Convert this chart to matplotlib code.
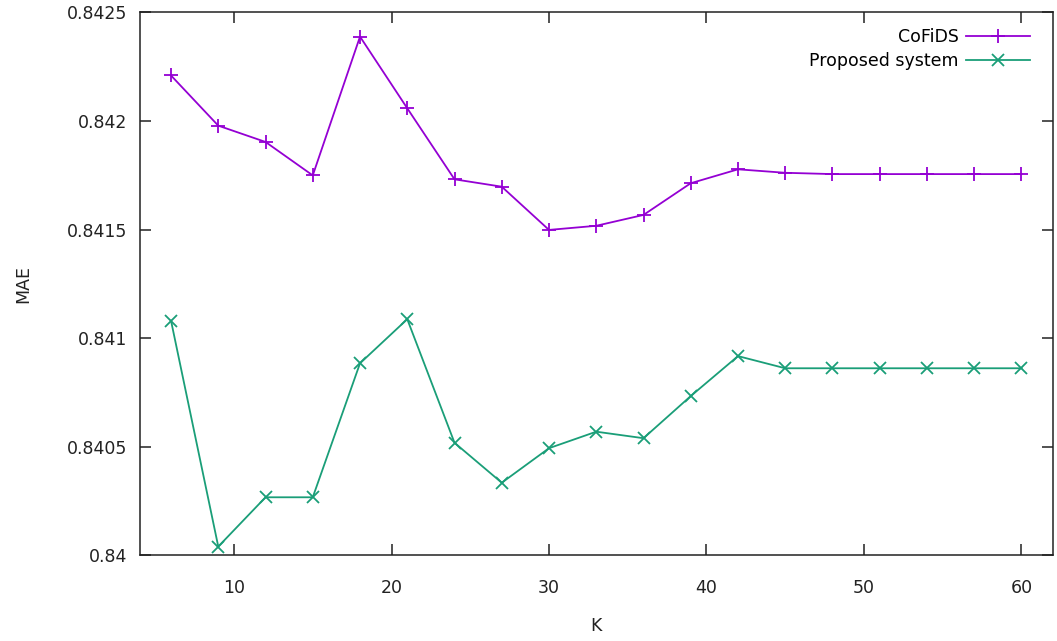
import matplotlib
matplotlib.use("Agg")
import matplotlib.pyplot as plt

k = [6, 9, 12, 15, 18, 21, 24, 27, 30, 33, 36, 39, 42, 45, 48, 51, 54, 57, 60]
cofids = [0.842210, 0.841979, 0.841904, 0.841750, 0.842389, 0.842059, 0.841732,
          0.841698, 0.841499, 0.841518, 0.841568, 0.841714, 0.841778, 0.841762,
          0.841756, 0.841756, 0.841756, 0.841756, 0.841756]
proposed = [0.841081, 0.840041, 0.840268, 0.840268, 0.840885, 0.841088, 0.840519,
            0.840335, 0.840494, 0.840570, 0.840540, 0.840734, 0.840918, 0.840862,
            0.840862, 0.840862, 0.840862, 0.840862, 0.840862]
xticks = [10, 20, 30, 40, 50, 60]
yticks = [0.84, 0.8405, 0.841, 0.8415, 0.842, 0.8425]
ylabels = ["0.84", "0.8405", "0.841", "0.8415", "0.842", "0.8425"]

plt.rcParams['font.family'] = ['DejaVu Sans']
fs = 12.5
fig = plt.figure(figsize=(10.57, 6.41), dpi=100)
ax = fig.add_axes([0.132, 0.1334, 0.8642, 0.8471])

ax.plot(k, cofids, color='#9400D3', lw=1.3, marker='+', ms=10, mew=1.3, label='CoFiDS')
ax.plot(k, proposed, color='#1A9E78', lw=1.3, marker='x', ms=8, mew=1.3, label='Proposed system')

ax.set_xlim(4, 62)
ax.set_ylim(0.84, 0.8425)
ax.set_xticks(xticks)
ax.set_yticks(yticks)
ax.set_yticklabels(ylabels)
ax.tick_params(direction='in', length=8, width=1.1, top=True, right=True,
               labelsize=fs, colors='#222222')
ax.tick_params(axis='x', pad=17)
ax.tick_params(axis='y', pad=9)
for s in ax.spines.values():
    s.set_linewidth(1.1)
    s.set_color('#222222')

ax.set_xlabel('K', fontsize=fs, color='#222222')
ax.set_ylabel('MAE', fontsize=fs, color='#222222')
ax.xaxis.set_label_coords(0.5, -0.113)
ax.yaxis.set_label_coords(-0.117, 0.5)

ax.legend(loc='upper right', frameon=False, markerfirst=False, fontsize=fs,
          handlelength=3.7, handletextpad=0.4, borderaxespad=0, borderpad=0,
          labelspacing=0.38, bbox_to_anchor=(0.975, 0.972))

fig.savefig('out.png', dpi=100)
